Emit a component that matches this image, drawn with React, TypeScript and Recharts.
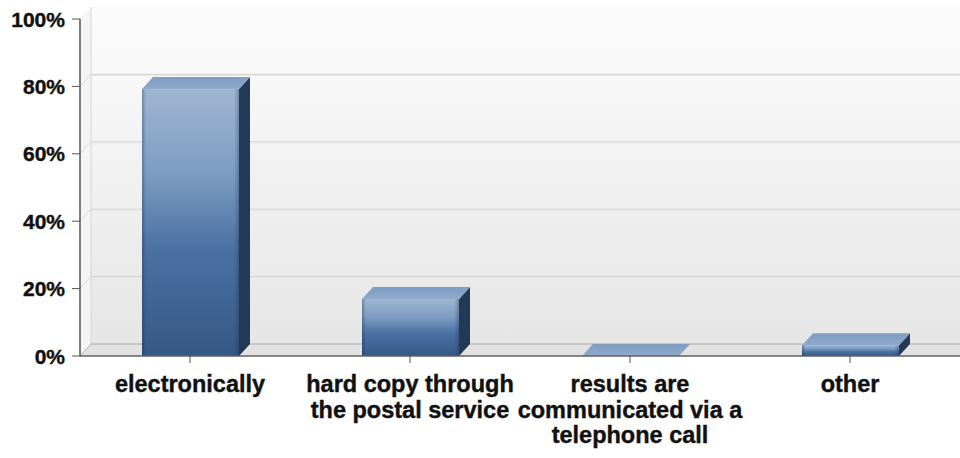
import React from 'react';
import { BarChart, Bar, XAxis, YAxis, ReferenceArea } from 'recharts';

const categories = [
  'electronically',
  'hard copy through the postal service',
  'results are communicated via a telephone call',
  'other',
];
const tickLines = [
  ['electronically'],
  ['hard copy through', 'the postal service'],
  ['results are', 'communicated via a', 'telephone call'],
  ['other'],
];
const shares = [79.2, 16.9, 0, 3.2];
const yTicks = [0, 20, 40, 60, 80, 100];

const data = categories.map((c, i) => ({ category: c, share: shares[i] }));

// depth of the fake 3d
const DX = 11;
const DY = -12;
const FONT = '"Liberation Sans", Arial, sans-serif';

const Wall = (props: any) => {
  const { x, y, width, height } = props;
  const bottom = y + height;
  const right = x + width;
  const lines = yTicks.map((t) => bottom - (t / 100) * height);
  return (
    <g>
      <polygon
        points={`${x},${y} ${x + DX},${y + DY} ${x + DX},${bottom + DY} ${x},${bottom}`}
        fill="#f4f4f4"
      />
      <rect x={x + DX} y={y + DY} width={width} height={height} fill="url(#wallFill)" />
      <polygon
        points={`${x},${bottom} ${x + DX},${bottom + DY} ${right + DX},${bottom + DY} ${right},${bottom}`}
        fill="#e2e2e2"
      />
      {lines.slice(1, -1).map((ly, i) => (
        <g key={i}>
          <line x1={x + DX} y1={ly + DY} x2={right + DX} y2={ly + DY} stroke="#d0d0d0" />
          <line x1={x + DX} y1={ly + DY + 1} x2={right + DX} y2={ly + DY + 1} stroke="#e6e6e6" />
          <line x1={x} y1={ly} x2={x + DX} y2={ly + DY} stroke="#d8d8d8" />
        </g>
      ))}
      <line x1={x + DX} y1={y + DY} x2={x + DX} y2={bottom + DY} stroke="#d6d6d6" />
      <line x1={x} y1={bottom} x2={x + DX} y2={bottom + DY} stroke="#b0b0b0" />
      <line x1={x + DX} y1={bottom + DY} x2={right + DX} y2={bottom + DY} stroke="#a8a8a8" />
    </g>
  );
};

const Bar3D = (props: any) => {
  const { x, y, width, height } = props;
  const h = Math.max(0, height);
  return (
    <g>
      {h > 0 && <rect x={x} y={y} width={width} height={h} fill="url(#barFront)" />}
      {h > 0 && <rect x={x} y={y} width={width} height={h} fill="url(#barEdge)" />}
      {h > 0 && (
        <polygon
          points={`${x + width},${y} ${x + width + DX},${y + DY} ${x + width + DX},${y + h + DY} ${x + width},${y + h}`}
          fill="#233a57"
        />
      )}
      <polygon
        points={`${x},${y} ${x + DX},${y + DY} ${x + width + DX},${y + DY} ${x + width},${y}`}
        fill="url(#barTop)"
      />
    </g>
  );
};

const YTick = (props: any) => {
  const { x, y, payload } = props;
  return (
    <text
      x={x - 5}
      y={y}
      textAnchor="end"
      dominantBaseline="central"
      fontFamily={FONT}
      fontWeight="bold"
      fontSize={21}
      fill="#111"
      stroke="#111"
      strokeWidth={0.4}
    >
      {payload.value}%
    </text>
  );
};

const XTick = (props: any) => {
  const { x, y, index } = props;
  const lines = tickLines[index] || [];
  return (
    <text
      textAnchor="middle"
      fontFamily={FONT}
      fontWeight="bold"
      fontSize={23.5}
      fill="#111"
      stroke="#111"
      strokeWidth={0.4}
    >
      {lines.map((l, i) => (
        <tspan key={i} x={x} y={y + 27 + i * 25.5}>
          {l}
        </tspan>
      ))}
    </text>
  );
};

export default function App() {
  return (
    <div>
      <style>{'body{margin:0;background:#fff}'}</style>
      <BarChart
        width={960}
        height={458}
        data={data}
        margin={{ top: 19, right: 0, bottom: 0, left: 0 }}
      >
        <defs>
          <linearGradient id="wallFill" x1="0" y1="0" x2="0" y2="1">
            <stop offset="0" stopColor="#fcfcfc" />
            <stop offset="1" stopColor="#e6e6e6" />
          </linearGradient>
          <linearGradient id="barFront" x1="0" y1="0" x2="0" y2="1">
            <stop offset="0" stopColor="#9fb5d0" />
            <stop offset="0.3" stopColor="#7f9ec4" />
            <stop offset="0.6" stopColor="#4b71a3" />
            <stop offset="1" stopColor="#365886" />
          </linearGradient>
          <linearGradient id="barEdge" x1="0" y1="0" x2="1" y2="0">
            <stop offset="0" stopColor="#14284a" stopOpacity="0.35" />
            <stop offset="0.04" stopColor="#14284a" stopOpacity="0" />
            <stop offset="0.95" stopColor="#14284a" stopOpacity="0" />
            <stop offset="1" stopColor="#14284a" stopOpacity="0.3" />
          </linearGradient>
          <linearGradient id="barTop" x1="0" y1="0" x2="0" y2="1">
            <stop offset="0" stopColor="#7f9cc1" />
            <stop offset="1" stopColor="#8eaacc" />
          </linearGradient>
        </defs>
        <ReferenceArea y1={0} y2={100} shape={(p: any) => <Wall {...p} />} />
        <XAxis
          dataKey="category"
          interval={0}
          height={102}
          tickSize={7}
          tick={<XTick />}
          axisLine={{ stroke: '#606060', strokeWidth: 1.5 }}
          tickLine={{ stroke: '#555' }}
        />
        <YAxis
          width={80}
          domain={[0, 100]}
          ticks={yTicks}
          tickSize={8}
          tick={<YTick />}
          axisLine={{ stroke: '#555', strokeWidth: 1.5 }}
          tickLine={{ stroke: '#555' }}
        />
        <Bar dataKey="share" barSize={97} shape={(p: any) => <Bar3D {...p} />} isAnimationActive={false} />
      </BarChart>
    </div>
  );
}
